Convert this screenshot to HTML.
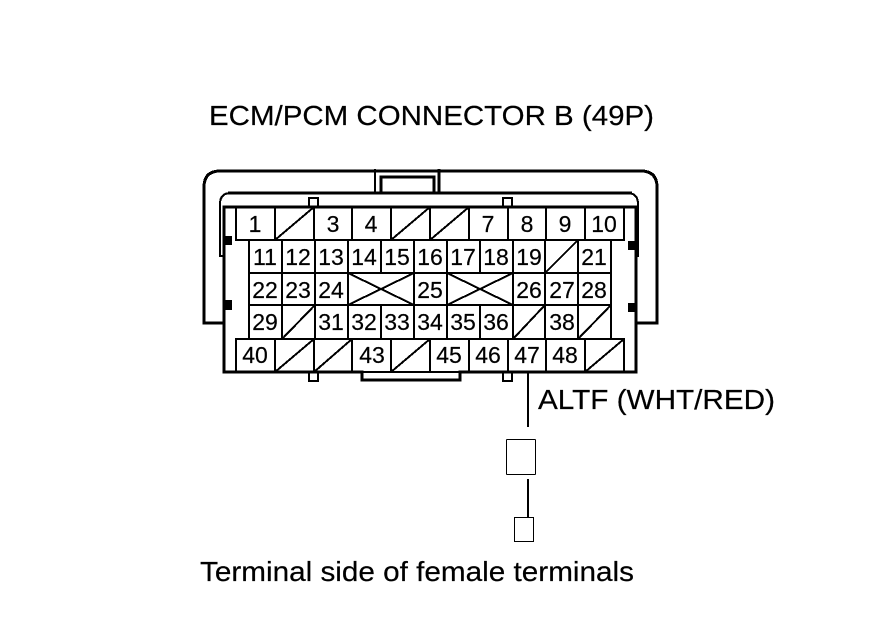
<!DOCTYPE html>
<html>
<head>
<meta charset="utf-8">
<style>
html,body{margin:0;padding:0;background:#fff;width:880px;height:630px;overflow:hidden}
svg{display:block}
text{font-family:"Liberation Sans",sans-serif;fill:#000;stroke:#000;stroke-width:.2}
.n{font-size:23px;text-anchor:middle}
.t{font-size:28px}
.g{shape-rendering:crispEdges}
</style>
</head>
<body>
<svg width="880" height="630" viewBox="0 0 880 630" xmlns="http://www.w3.org/2000/svg">
<rect width="880" height="630" fill="#fff"/>
<text class="t" x="209" y="125" textLength="445" lengthAdjust="spacingAndGlyphs">ECM/PCM CONNECTOR B (49P)</text>
<text class="t" x="538" y="409" textLength="237" lengthAdjust="spacingAndGlyphs">ALTF (WHT/RED)</text>
<text class="t" x="200" y="581" textLength="434" lengthAdjust="spacingAndGlyphs">Terminal side of female terminals</text>

<g class="g" fill="none" stroke="#000">
<!-- outer shell -->
<path stroke-width="3" d="M224 323H204V187Q204 171 220 171H641Q657 171 657 187V323H636"/>
<path stroke-width="3" d="M224 323V372H362V380H460V372H636V323"/>
<path stroke-width="3" d="M224 323V207H636V323"/>
<!-- inner band -->
<path stroke-width="2" d="M224 256H220V204Q220 193 231 193H627Q638 193 638 204V256H636"/>
<path stroke-width="3" d="M228 193H632"/>
<!-- latch -->
<path stroke-width="2" d="M375 169V193"/>
<path stroke-width="3" d="M439 169V193"/>
<path stroke-width="3" d="M381 193V177H434V193"/>
<!-- notches -->
<path stroke-width="2" d="M309 207V198H318V207M503 207V198H512V207M309 372V381H318V372M503 372V381H512V372"/>

<g stroke-width="2">
<!-- row 1 -->
<rect x="236" y="207" width="388" height="33"/>
<path d="M275 207V240M314 207V240M352 207V240M391 207V240M430 207V240M469 207V240M508 207V240M546 207V240M585 207V240"/>
<path d="M275 240L314 207M391 240L430 207M430 240L469 207"/>
<!-- row 5 -->
<rect x="236" y="339" width="388" height="33"/>
<path d="M275 339V372M314 339V372M352 339V372M391 339V372M430 339V372M469 339V372M508 339V372M546 339V372M585 339V372"/>
<path d="M275 372L314 339M314 372L352 339M391 372L430 339M585 372L624 339"/>
<!-- rows 2-4 -->
<rect x="249" y="240" width="362" height="99"/>
<path d="M249 273H611M249 305H611"/>
<path d="M282 240V339M315 240V339M348 240V339M381 240V273M381 305V339M414 240V339M447 240V339M480 240V273M480 305V339M513 240V339M545 240V339M578 240V339"/>
<path d="M545 273L578 240M282 339L315 305M513 339L545 305M578 339L611 305"/>
<path d="M348 273L414 305M348 305L414 273M447 273L513 305M447 305L513 273"/>
</g>

<!-- wire and terminals -->
<path stroke-width="2" d="M528 373V427"/>
<rect x="506.500" y="439.500" width="29" height="35" rx="1" stroke-width="1"/>
<path stroke-width="2" d="M528 479V518"/>
<rect x="514.500" y="517.500" width="19" height="24" stroke-width="1"/>
</g>

<!-- black tabs -->
<g fill="#000">
<rect x="225" y="236" width="7" height="9"/>
<rect x="225" y="300" width="7" height="10"/>
<rect x="628" y="241" width="8" height="9"/>
<rect x="628" y="303" width="8" height="9"/>
</g>

<g class="labels">
<!-- row 1 -->
<text class="n" x="255" y="232">1</text>
<text class="n" x="333" y="232">3</text>
<text class="n" x="371" y="232">4</text>
<text class="n" x="488" y="232">7</text>
<text class="n" x="527" y="232">8</text>
<text class="n" x="565" y="232">9</text>
<text class="n" x="604" y="232">10</text>
<!-- row 2 -->
<text class="n" x="265" y="265">11</text>
<text class="n" x="298" y="265">12</text>
<text class="n" x="331" y="265">13</text>
<text class="n" x="364" y="265">14</text>
<text class="n" x="397" y="265">15</text>
<text class="n" x="430" y="265">16</text>
<text class="n" x="463" y="265">17</text>
<text class="n" x="496" y="265">18</text>
<text class="n" x="529" y="265">19</text>
<text class="n" x="594" y="265">21</text>
<!-- row 3 -->
<text class="n" x="265" y="298">22</text>
<text class="n" x="298" y="298">23</text>
<text class="n" x="331" y="298">24</text>
<text class="n" x="430" y="298">25</text>
<text class="n" x="529" y="298">26</text>
<text class="n" x="562" y="298">27</text>
<text class="n" x="594" y="298">28</text>
<!-- row 4 -->
<text class="n" x="265" y="330">29</text>
<text class="n" x="331" y="330">31</text>
<text class="n" x="364" y="330">32</text>
<text class="n" x="397" y="330">33</text>
<text class="n" x="430" y="330">34</text>
<text class="n" x="463" y="330">35</text>
<text class="n" x="496" y="330">36</text>
<text class="n" x="562" y="330">38</text>
<!-- row 5 -->
<text class="n" x="255" y="363">40</text>
<text class="n" x="372" y="363">43</text>
<text class="n" x="449" y="363">45</text>
<text class="n" x="488" y="363">46</text>
<text class="n" x="527" y="363">47</text>
<text class="n" x="565" y="363">48</text>
</g>
</svg>
</body>
</html>
